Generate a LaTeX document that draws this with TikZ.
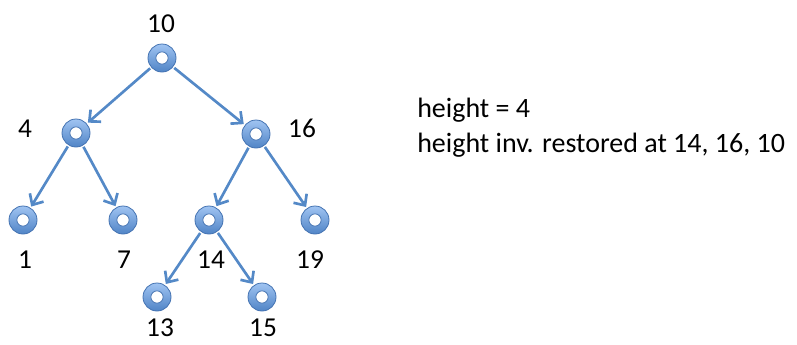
\documentclass[tikz,border=0pt]{standalone}
\usepackage{fontspec}
\usepackage{xcolor}
\setmainfont{Carlito}
\usetikzlibrary{arrows.meta}
\definecolor{ringtop}{RGB}{160,196,242}
\definecolor{ringbot}{RGB}{80,132,198}
\definecolor{ringedge}{RGB}{68,115,178}
\definecolor{edgeblue}{RGB}{84,137,199}

\begin{document}
\begin{tikzpicture}[x=0.75pt,y=0.75pt]
\tikzstyle{every node}+=[inner sep=0pt, font=\fontsize{20.5}{24}\selectfont]
\tikzstyle{ring}=[circle, minimum size=21pt, top color=ringtop, bottom color=ringbot,
  draw=ringedge, line width=0.6pt,
  path picture={\fill[white] (path picture bounding box.center) circle (4.6pt);
    \draw[ringedge, line width=0.6pt] (path picture bounding box.center) circle (4.6pt);}]
\tikzstyle{edge}=[draw=edgeblue, line width=2pt, -{Straight Barb[length=6.5pt,width=12pt]},
  shorten <=1pt, shorten >=1pt]
\useasboundingbox (0,0) rectangle (797,-344);
% tree
\node [ring] (n10) at (162,-58) {};
\node [ring] (n4) at (76,-133) {};
\node [ring] (n16) at (256,-134) {};
\node [ring] (n1) at (23,-220) {};
\node [ring] (n7) at (123,-220) {};
\node [ring] (n14) at (209,-220) {};
\node [ring] (n19) at (315,-220) {};
\node [ring] (n13) at (157,-297) {};
\node [ring] (n15) at (262,-297) {};
\draw [edge] (n10) -- (n4);
\draw [edge] (n10) -- (n16);
\draw [edge] (n4) -- (n1);
\draw [edge] (n4) -- (n7);
\draw [edge] (n16) -- (n14);
\draw [edge] (n16) -- (n19);
\draw [edge] (n14) -- (n13);
\draw [edge] (n14) -- (n15);
% keys
\node [anchor=base] (l10) at (161,-32) {10};
\node [anchor=base] (l4) at (25,-137) {4};
\node [anchor=base] (l16) at (302,-137) {16};
\node [anchor=base] (l1) at (25,-268) {1};
\node [anchor=base] (l7) at (124,-268) {7};
\node [anchor=base] (l14) at (211,-268) {14};
\node [anchor=base] (l19) at (310,-268) {19};
\node [anchor=base] (l13) at (160,-336) {13};
\node [anchor=base] (l15) at (263,-336) {15};
% note
\node [anchor=base west, font=\fontsize{21}{24}\selectfont] (h) at (417,-117) {height = 4};
\node [anchor=base west, font=\fontsize{21}{24}\selectfont] (inv) at (417,-152) {height inv. restored at 14, 16, 10};
\end{tikzpicture}
\end{document}
